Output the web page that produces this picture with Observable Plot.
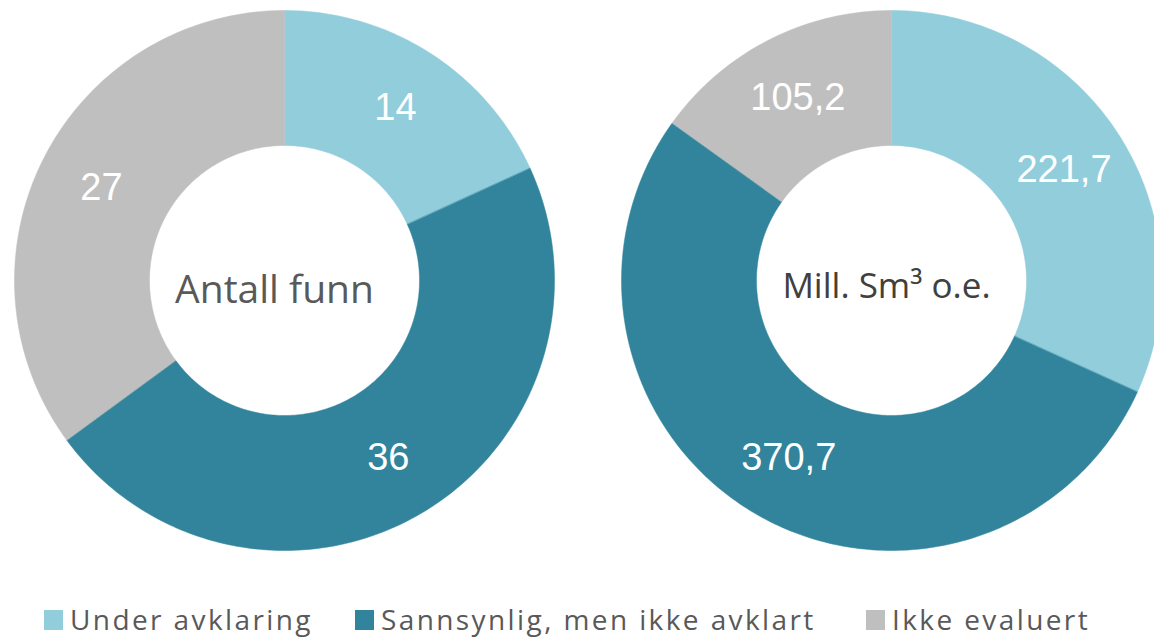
<!DOCTYPE html>
<html>
<head>
<meta charset="utf-8">
<script src="https://cdn.jsdelivr.net/npm/d3@7"></script>
<script src="https://cdn.jsdelivr.net/npm/@observablehq/plot@0.6"></script>
<style>
  body { margin: 0; background: #fff; width: 1154px; height: 637px; overflow: hidden; position: relative; }
  #chart svg { display: block; }
  #legend { position: absolute; top: 0; left: 0; width: 1154px; height: 637px; pointer-events: none;
            font-family: "Open Sans", sans-serif; font-size: 28px; color: #595959; letter-spacing: 2.4px; }
  .sw { position: absolute; top: 610px; width: 19px; height: 20px; }
  .tx { position: absolute; top: 599px; line-height: 40px; white-space: nowrap; }
</style>
</head>
<body>
<div id="chart"></div>
<div id="legend"></div>
<script>
const categories = ["Under avklaring", "Sannsynlig, men ikke avklart", "Ikke evaluert"];
const antallFunn = [14, 36, 27];
const millSm3 = [221.7, 370.7, 105.2];
const centerLabels = ["Antall funn", "Mill. Sm³ o.e."];
const colors = ["#92CDDC", "#31849B", "#BFBFBF"];

const W = 1154, H = 580;
const R = 270, cx0 = 284, cx1 = 891, cy = 280;
const inner = 0.5, labelR = 0.76;

const donuts = [antallFunn, millSm3];
const pts = [], labels = [], centers = [];
donuts.forEach((vals, d) => {
  const ox = d === 0 ? 0 : (cx1 - cx0) / R;
  const arcs = d3.pie().sort(null).value(v => v)(vals);
  arcs.forEach((a, i) => {
    const id = d + "-" + i;
    const n = Math.max(8, Math.ceil((a.endAngle - a.startAngle) * 60));
    for (let k = 0; k <= n; k++) {
      const t = a.startAngle + (a.endAngle - a.startAngle) * k / n;
      pts.push({id, cat: categories[i], x: ox + Math.sin(t), y: Math.cos(t)});
    }
    for (let k = n; k >= 0; k--) {
      const t = a.startAngle + (a.endAngle - a.startAngle) * k / n;
      pts.push({id, cat: categories[i], x: ox + inner * Math.sin(t), y: inner * Math.cos(t)});
    }
    const m = (a.startAngle + a.endAngle) / 2;
    labels.push({x: ox + labelR * Math.sin(m), y: labelR * Math.cos(m),
                 text: String(vals[i]).replace(".", ",")});
  });
  centers.push({x: ox, y: 0, text: centerLabels[d], d});
});

const chart = Plot.plot({
  width: W, height: H, margin: 0,
  x: {domain: [-cx0 / R, (W - cx0) / R], axis: null},
  y: {domain: [-(H - cy) / R, cy / R], axis: null},
  color: {domain: categories, range: colors},
  marks: [
    Plot.line(pts, {x: "x", y: "y", z: "id", fill: "cat", stroke: "cat", strokeWidth: 0.5, curve: "linear-closed"}),
    Plot.text(labels, {x: "x", y: "y", text: "text", fill: "white",
      fontFamily: "Liberation Sans, Arial, sans-serif", fontSize: 38}),
    Plot.text(centers.filter(c => c.d === 0), {x: "x", y: "y", text: "text", fill: "#595959",
      fontFamily: "Open Sans, sans-serif", fontSize: 39, dy: 10, dx: -10}),
    Plot.text(centers.filter(c => c.d === 1), {x: "x", y: "y", text: "text", fill: "#404040",
      fontFamily: "Open Sans, sans-serif", fontSize: 35, dy: 6, dx: -5})
  ]
});
document.getElementById("chart").appendChild(chart);

const legendX = [44, 355, 866];
const leg = document.getElementById("legend");
categories.forEach((c, i) => {
  const sw = document.createElement("div");
  sw.className = "sw";
  sw.style.left = legendX[i] + "px";
  sw.style.background = colors[i];
  const tx = document.createElement("div");
  tx.className = "tx";
  tx.style.left = (legendX[i] + 26) + "px";
  tx.textContent = c;
  leg.appendChild(sw); leg.appendChild(tx);
});
</script>
</body>
</html>
